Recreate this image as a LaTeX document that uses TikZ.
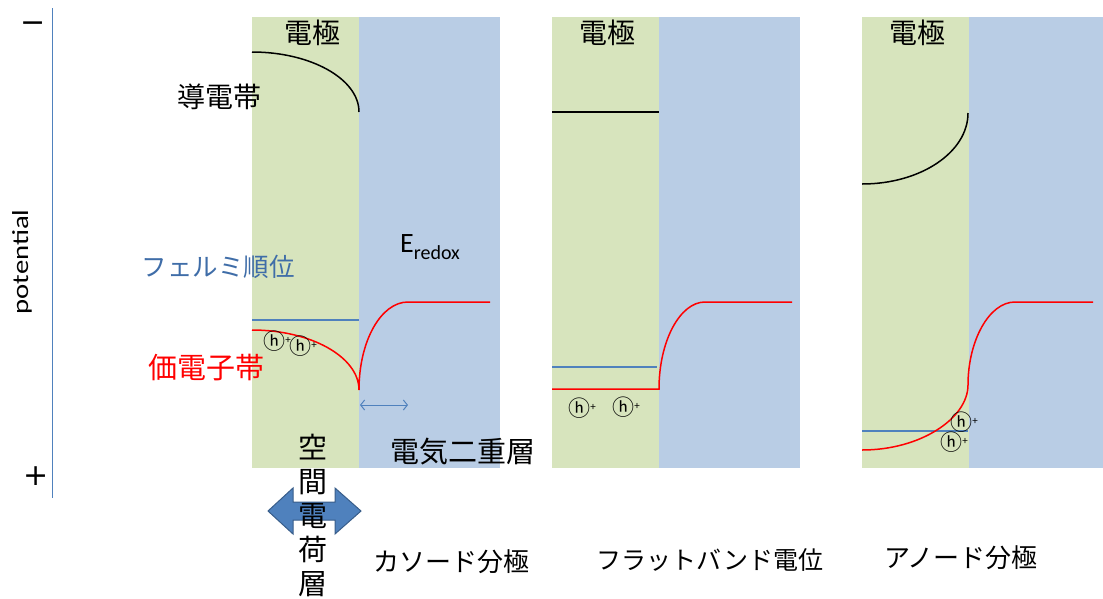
\documentclass[tikz,border=0pt]{standalone}
\usepackage{fontspec}
\setmainfont{Carlito}
\newfontfamily\jp{Noto Sans CJK JP}
\newfontfamily\dv{DejaVu Sans}
\usetikzlibrary{arrows.meta}
\definecolor{elgreen}{HTML}{D7E4BD}
\definecolor{elblue}{HTML}{B9CDE5}
\definecolor{steel}{HTML}{4F81BD}
\definecolor{steeldark}{HTML}{385D8A}
\definecolor{fermitext}{HTML}{3F6DA8}
\newcommand{\fs}[1]{\fontsize{#1}{#1}\selectfont}
\newcommand{\hplus}{{\jp\fs{22}ⓗ}\raisebox{6pt}{\fs{11}+}}
\tikzset{
  electrode/.style={fill=elgreen, draw=none},
  solution/.style={fill=elblue, draw=none},
  cband/.style={draw=black, line width=1.5pt},
  vband/.style={draw=red, line width=1.5pt},
  fermi/.style={draw=steel, line width=1.3pt},
  jtext/.style={font=\jp\fs{#1}, inner sep=0pt},
  hole/.style={inner sep=0pt},
}
\begin{document}
\begin{tikzpicture}[x=1pt, y=-1pt]
\useasboundingbox (0,0) rectangle (1103,598);
% backgrounds
\fill[electrode] (252,17) rectangle (359,468);
\fill[solution] (359,17) rectangle (500,468);
\fill[electrode] (552,17) rectangle (659,468);
\fill[solution] (659,17) rectangle (800,468);
\fill[electrode] (862,17) rectangle (969,468);
\fill[solution] (969,17) rectangle (1103,468);

% axis
\coordinate (axtop) at (52,8);
\coordinate (axbot) at (52,498);
\draw[steel, line width=1pt] (axtop) -- (axbot);
\node[inner sep=0pt, font=\dv\fs{30}] (minus) at (33,27) {−};
\node[inner sep=0pt, font=\dv\fs{30}] (plus) at (36,476) {+};
\node[rotate=90, inner sep=0pt, font=\fs{23}] (pot) at (22,262) {\scalebox{1.25}[1]{potential}};

% ---------- panel 1: cathodic polarization ----------
\draw[cband] (252,52) .. controls (311,52) and (359,79) .. (359,112);
\draw[fermi] (252,320) -- (359,320);
\draw[vband] (252,330) .. controls (311,330) and (359,357) .. (359,390)
  .. controls (359,341) and (381,302) .. (408,302) -- (490,302);
\node[hole] (h1a) at (277,341) {\hplus};
\node[hole] (h1b) at (303,346) {\hplus};
\coordinate (edlL) at (360,405);
\coordinate (edlR) at (408,405);
\draw[steel, line width=1pt, {Straight Barb[length=4pt,width=10pt]}-{Straight Barb[length=4pt,width=10pt]}] (edlL) -- (edlR);
\node[jtext=28] (el1) at (312,33) {電極};
\node[jtext=28] (cb) at (219,97) {導電帯};
\node[jtext=25.5, text=fermitext] (fl) at (218,267) {フェルミ順位};
\node[jtext=29, text=red] (vb) at (206,368) {価電子帯};
\node[inner sep=0pt] (eredox) at (430,247) {\fs{28}E\raisebox{-7pt}{\fs{20}redox}};
\node[jtext=29] (edl) at (463,452) {電気二重層};
% space charge block arrow
\fill[steel, draw=steeldark, line width=1pt]
  (268,511) -- (293,488) -- (293,502) -- (335,502) -- (335,488) -- (361,511)
  -- (335,534) -- (335,520) -- (293,520) -- (293,534) -- cycle;
\node[jtext=29, align=center, font=\jp\fontsize{29}{34}\selectfont] (scl) at (313,515) {空\\間\\電\\荷\\層};
\node[jtext=26] (cat) at (451,562) {カソード分極};

% ---------- panel 2: flat band ----------
\draw[cband] (552,112) -- (659,112);
\draw[fermi] (552,367) -- (657,367);
\draw[vband] (552,389) -- (659,389) .. controls (659,341) and (680,302) .. (705,302) -- (792,302);
\node[hole] (h2a) at (582,408) {\hplus};
\node[hole] (h2b) at (626,407) {\hplus};
\node[jtext=28] (el2) at (607,33) {電極};
\node[jtext=25] (fb) at (710,560) {フラットバンド電位};

% ---------- panel 3: anodic polarization ----------
\draw[cband] (862,184) .. controls (921,184) and (968,152) .. (968,113);
\draw[fermi] (862,431) -- (968,431);
\draw[vband] (862,450) .. controls (921,450) and (968,418) .. (968,385)
  .. controls (968,341) and (989,302) .. (1015,302) -- (1093,302);
\node[hole] (h3a) at (964,422) {\hplus};
\node[hole] (h3b) at (954,442) {\hplus};
\node[jtext=28] (el3) at (917,33) {電極};
\node[jtext=26] (an) at (961,558) {アノード分極};
\end{tikzpicture}
\end{document}
